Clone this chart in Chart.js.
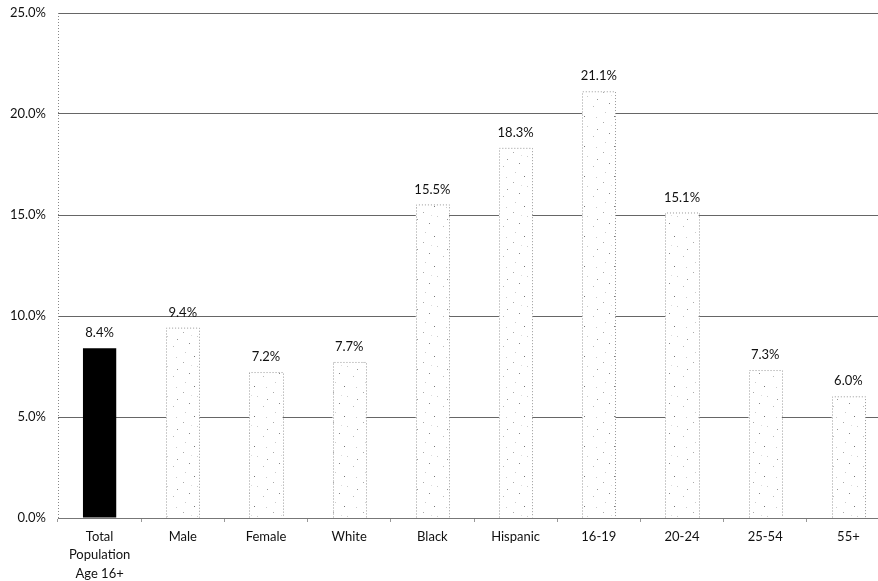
<!DOCTYPE html>
<html>
<head>
<meta charset="utf-8">
<script src="https://cdn.jsdelivr.net/npm/chart.js@4.4.1/dist/chart.umd.min.js"></script>
<style>
    html, body { margin: 0; padding: 0; background: #fff; overflow: hidden; }
    #wrap { width: 890px; height: 581px; }
</style>
</head>
<body>
<div id="wrap"><canvas id="rateChart" width="890" height="581"></canvas></div>
<script>
// Unemployment rate by group
const categories = [['Total', 'Population', 'Age 16+'], 'Male', 'Female', 'White', 'Black', 'Hispanic', '16-19', '20-24', '25-54', '55+'];
const rates = [8.4, 9.4, 7.2, 7.7, 15.5, 18.3, 21.1, 15.1, 7.3, 6.0];
const yTicks = [0, 5, 10, 15, 20, 25];

// Stippled fill for the group bars
function makeStipple() {
    const c = document.createElement('canvas');
    c.width = 30; c.height = 30;
    const g = c.getContext('2d');
    g.fillStyle = '#fff';
    g.fillRect(0, 0, 30, 30);
    const dots = [[3, 2, '#aaa'], [17, 6, '#ccc'], [9, 13, '#888'], [23, 16, '#bbb'], [5, 22, '#ccc'], [14, 26, '#777'], [26, 27, '#ccc'], [11, 5, '#ddd'], [27, 9, '#999']];
    dots.forEach(d => {
        g.fillStyle = d[2];
        g.fillRect(d[0], d[1], 1, 1);
    });
    return g.createPattern(c, 'repeat');
}

const ctx = document.getElementById('rateChart').getContext('2d');
const stipple = makeStipple();

const barDecor = {
    id: 'barDecor',
    afterDatasetsDraw(chart) {
        const c = chart.ctx;
        const area = chart.chartArea;
        // dotted y axis line
        c.save();
        c.strokeStyle = '#888';
        c.lineWidth = 1;
        c.setLineDash([1, 2]);
        c.beginPath();
        c.moveTo(Math.round(area.left) + 0.5, area.top);
        c.lineTo(Math.round(area.left) + 0.5, area.bottom);
        c.stroke();
        c.restore();

        const meta = chart.getDatasetMeta(0);
        meta.data.forEach((bar, i) => {
            const left = bar.x - bar.width / 2;
            const right = bar.x + bar.width / 2;
            if (i > 0) {
                c.save();
                c.strokeStyle = '#999';
                c.lineWidth = 1;
                c.setLineDash([1, 2]);
                c.beginPath();
                c.moveTo(Math.round(left) + 0.5, bar.base);
                c.lineTo(Math.round(left) + 0.5, bar.y);
                c.lineTo(Math.round(right) + 0.5, bar.y);
                c.lineTo(Math.round(right) + 0.5, bar.base);
                c.stroke();
                c.restore();
            }
            // value label
            c.save();
            c.fillStyle = '#111';
            c.font = '13px Lato, "Open Sans", sans-serif';
            c.textAlign = 'center';
            c.textBaseline = 'bottom';
            c.fillText(rates[i].toFixed(1) + '%', bar.x, bar.y - 9);
            c.restore();
        });
    }
};

new Chart(ctx, {
    type: 'bar',
    data: {
        labels: categories,
        datasets: [{
            data: rates,
            backgroundColor: rates.map((v, i) => i === 0 ? '#000' : stipple),
            borderWidth: 0,
            categoryPercentage: 1,
            barPercentage: 0.4
        }]
    },
    options: {
        responsive: false,
        animation: false,
        layout: { padding: { top: 13, right: 0, left: 0, bottom: 0 } },
        scales: {
            y: {
                min: 0,
                max: 25,
                afterFit: s => { s.width = 58; s.paddingTop = 0; s.paddingBottom = 0; },
                afterBuildTicks: s => { s.ticks = yTicks.map(v => ({ value: v })); },
                ticks: {
                    color: '#111',
                    font: { family: 'Lato, "Open Sans", sans-serif', size: 13 },
                    padding: 12,
                    callback: v => v.toFixed(1) + '%'
                },
                border: { display: false },
                grid: { color: '#666', lineWidth: 1, drawTicks: false }
            },
            x: {
                afterFit: s => { s.height = 63; },
                ticks: {
                    color: '#111',
                    font: { family: 'Lato, "Open Sans", sans-serif', size: 13, lineHeight: 1.4 },
                    padding: 6,
                    maxRotation: 0,
                    autoSkip: false
                },
                border: { display: true, color: '#777', dash: [2, 1] },
                grid: { display: true, drawOnChartArea: false, offset: true, tickLength: 4, color: '#999' }
            }
        },
        plugins: {
            legend: { display: false },
            tooltip: { enabled: false }
        }
    },
    plugins: [barDecor]
});
</script>
</body>
</html>
